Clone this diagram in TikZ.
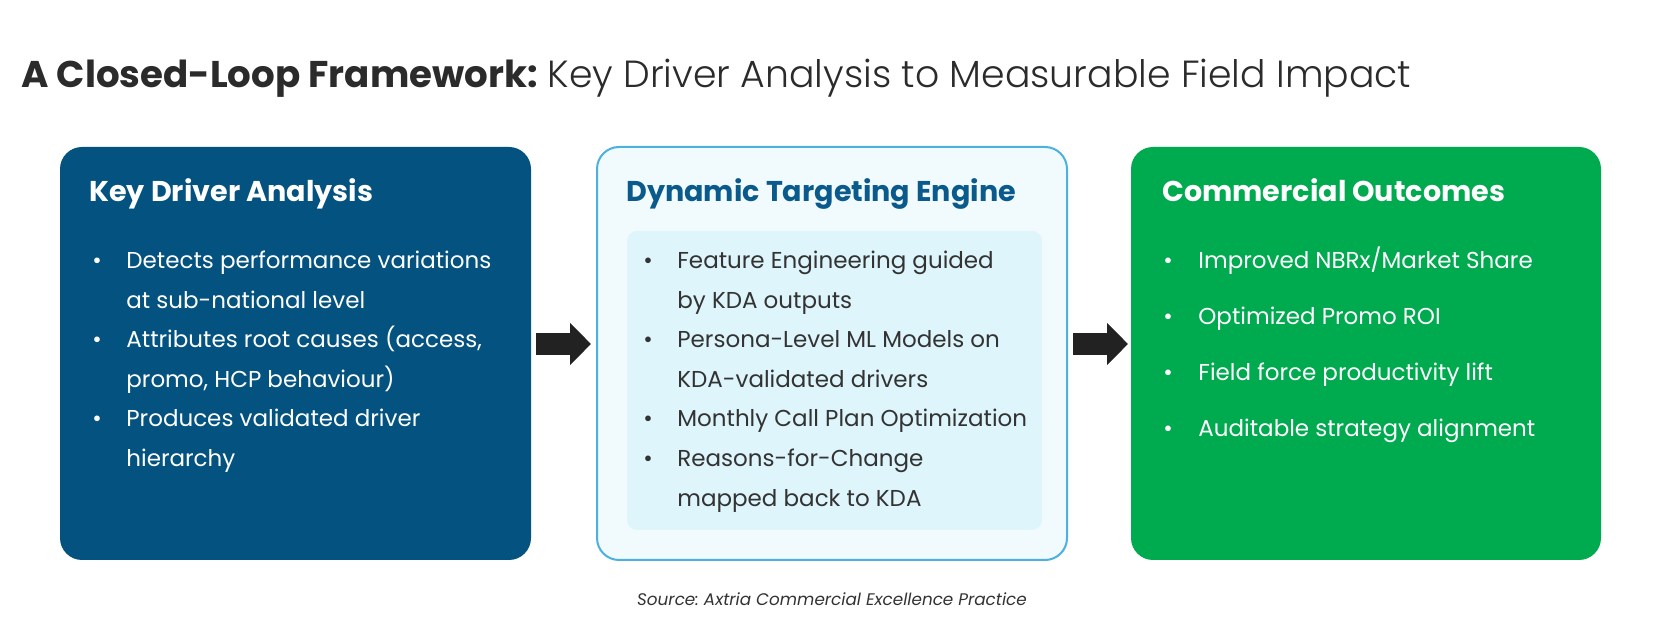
\documentclass[tikz,border=0pt]{standalone}
\usepackage{fontspec}
\setmainfont{Poppins}
\newfontfamily\poplight{Poppins Light}
\usetikzlibrary{arrows.meta}
\definecolor{kdablue}{HTML}{03527F}
\definecolor{outgreen}{HTML}{00AA4F}
\definecolor{engborder}{HTML}{4CB0E0}
\definecolor{engfill}{HTML}{F1FBFE}
\definecolor{enginner}{HTML}{DDF5FB}
\definecolor{engtitle}{HTML}{0A5A8C}
\definecolor{titlegray}{HTML}{2B2B2B}
\definecolor{bodygray}{HTML}{333333}
\definecolor{arrowgray}{HTML}{222222}
\frenchspacing
\begin{document}
\begin{tikzpicture}[x=0.5pt,y=-0.5pt,
  panel/.style={rounded corners=11pt, inner sep=0, outer sep=0, anchor=north west},
  head/.style={anchor=base west, inner sep=0, font=\fontsize{14.3}{17}\selectfont\bfseries},
  bul/.style={anchor=base west, inner sep=0, font=\fontsize{11.5}{19.7}\selectfont},
  flow/.style={-{Triangle[length=10.5pt,width=20.5pt]}, line width=11pt, draw=arrowgray}
]
\useasboundingbox[fill=white] (0,0) rectangle (1667,635);

% title
\node[anchor=base west, inner sep=0, font=\fontsize{18.6}{22}\selectfont, text=titlegray] (title) at (21,88)
  {{\bfseries A Closed-Loop Framework:} {\poplight\fontsize{18.9}{22}\selectfont Key Driver Analysis to Measurable Field Impact}};

% panels
\node[panel, fill=kdablue, minimum width=235.5pt, minimum height=206.5pt] (kda) at (60,147) {};
\node[panel, fill=engfill, draw=engborder, line width=1pt, minimum width=235pt, minimum height=206.5pt] (eng) at (597,147) {};
\node[panel, rounded corners=5pt, fill=enginner, minimum width=207.5pt, minimum height=149.5pt] (engin) at (627,231) {};
\node[panel, fill=outgreen, minimum width=235pt, minimum height=206.5pt] (out) at (1131,147) {};

% headings
\node[head, text=white] (kdah) at (89,202) {Key Driver Analysis};
\node[head, text=engtitle] (engh) at (626,202) {Dynamic Targeting Engine};
\node[head, text=white] (outh) at (1162,202) {Commercial Outcomes};

% KDA bullets
\node[bul, text=white] (kdab1) at (92,269) {•};
\node[bul, text=white] (kdat1) at (126,269) {\parbox[t]{200pt}{Detects performance variations\\at sub-national level}};
\node[bul, text=white] (kdab2) at (92,348) {•};
\node[bul, text=white] (kdat2) at (126,348) {\parbox[t]{200pt}{Attributes root causes (access,\\promo, HCP behaviour)}};
\node[bul, text=white] (kdab3) at (92,427) {•};
\node[bul, text=white] (kdat3) at (126,427) {\parbox[t]{200pt}{Produces validated driver\\hierarchy}};

% Engine bullets
\node[bul, text=bodygray] (engb1) at (643,269) {•};
\node[bul, text=bodygray] (engt1) at (677,269) {\parbox[t]{200pt}{Feature Engineering guided\\by KDA outputs}};
\node[bul, text=bodygray] (engb2) at (643,348) {•};
\node[bul, text=bodygray] (engt2) at (677,348) {\parbox[t]{200pt}{Persona-Level ML Models on\\KDA-validated drivers}};
\node[bul, text=bodygray] (engb3) at (643,427) {•};
\node[bul, text=bodygray] (engt3) at (677,427) {Monthly Call Plan Optimization};
\node[bul, text=bodygray] (engb4) at (643,467) {•};
\node[bul, text=bodygray] (engt4) at (677,467) {\parbox[t]{200pt}{Reasons-for-Change\\mapped back to KDA}};

% Outcome bullets
\node[bul, text=white] (outb1) at (1163,269) {•};
\node[bul, text=white] (outt1) at (1198,269) {Improved NBRx/Market Share};
\node[bul, text=white] (outb2) at (1163,325) {•};
\node[bul, text=white] (outt2) at (1198,325) {Optimized Promo ROI};
\node[bul, text=white] (outb3) at (1163,381) {•};
\node[bul, text=white] (outt3) at (1198,381) {Field force productivity lift};
\node[bul, text=white] (outb4) at (1163,437) {•};
\node[bul, text=white] (outt4) at (1198,437) {Auditable strategy alignment};

% arrows
\draw[flow] ([xshift=2.5pt,yshift=4.75pt]kda.east) -- ([xshift=-3pt,yshift=4.75pt]eng.west);
\draw[flow] ([xshift=3pt,yshift=4.75pt]eng.east) -- ([xshift=-1.5pt,yshift=4.75pt]out.west);

% source
\node[anchor=base, inner sep=0, font=\fontsize{8.4}{10}\selectfont\itshape, text=bodygray] (src) at (832,606)
  {Source: Axtria Commercial Excellence Practice};
\end{tikzpicture}
\end{document}
